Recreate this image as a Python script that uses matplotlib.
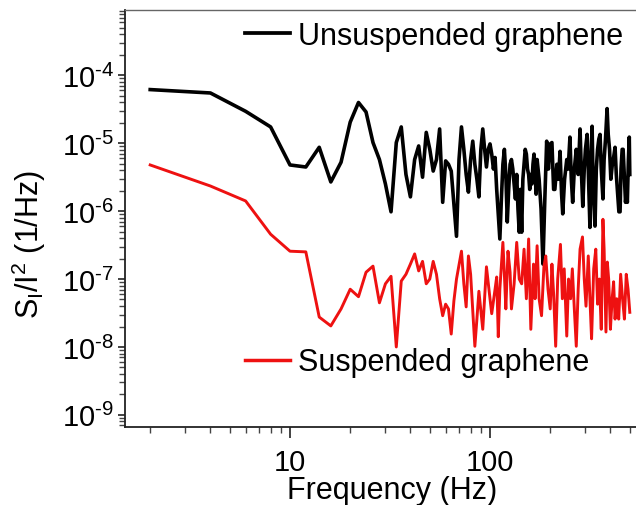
import numpy as np
import matplotlib
matplotlib.use("Agg")
from matplotlib import pyplot as plt

plt.rcParams['font.family'] = ['Liberation Sans', 'DejaVu Sans']
plt.rcParams['mathtext.fontset'] = 'custom'
plt.rcParams['mathtext.rm'] = 'Liberation Sans'
plt.rcParams['mathtext.it'] = 'Liberation Sans'

# data: frequency in Hz, noise as log10(S_I/I^2)
unsusp_freq = [2, 4, 6, 8, 10, 12, 14, 16, 18, 20, 22, 24, 26, 28, 30, 32, 34, 36, 38, 40,
               42, 44, 46, 48, 50, 52, 54, 56, 58, 60, 62, 64, 66, 68, 70, 72, 74, 76, 78, 80,
               82, 84, 86, 88, 90, 92, 94, 96, 98, 100, 102, 104, 106, 108, 110, 112, 114, 116, 118, 120,
               122, 124, 126, 128, 130, 132, 134, 136, 138, 140, 142, 144, 146, 148, 150, 152, 154, 156, 158, 160,
               162, 164, 166, 168, 170, 172, 176, 180, 184, 188, 192, 196, 200, 204, 208, 211, 216, 220, 224, 228,
               231, 236, 242, 246, 251, 255, 259, 264, 270, 276, 282, 286, 291, 296, 300, 306, 311, 316, 320, 324,
               328, 335, 340, 345, 350, 355, 360, 367, 372, 378, 385, 390, 396, 402, 408, 415, 422, 428, 435, 441,
               447, 452, 458, 463, 470, 476, 482, 486, 492, 497, 500]
unsusp_log = [-4.21, -4.26, -4.53, -4.76, -5.32, -5.35, -5.06, -5.57, -5.28, -4.69,
              -4.40, -4.54, -4.99, -5.24, -5.60, -6.01, -4.99, -4.76, -5.46, -5.79,
              -5.24, -5.04, -5.50, -4.84, -5.09, -5.41, -5.24, -4.79, -5.87, -5.26,
              -5.31, -5.41, -5.90, -6.37, -5.24, -4.76, -5.09, -5.46, -5.72, -5.24,
              -4.97, -5.31, -5.53, -5.79, -5.09, -4.79, -5.09, -5.35, -5.09, -5.01,
              -5.16, -5.38, -5.21, -5.68, -6.04, -6.41, -5.82, -5.31, -5.09, -5.46,
              -6.16, -5.68, -5.31, -5.24, -5.38, -5.60, -5.82, -5.46, -5.97, -6.31,
              -5.68, -6.31, -5.53, -5.31, -5.09, -5.16, -5.38, -5.46, -5.68, -5.46,
              -5.60, -5.31, -5.16, -5.38, -5.75, -5.24, -5.53, -5.97, -6.78, -5.82,
              -4.97, -5.38, -5.01, -4.99, -5.68, -5.68, -5.31, -5.53, -5.12, -5.75,
              -6.04, -5.53, -5.24, -5.38, -4.91, -5.53, -5.87, -5.38, -5.09, -5.46,
              -4.79, -5.38, -5.93, -5.38, -5.09, -4.87, -5.53, -6.24, -5.24, -4.75,
              -5.68, -6.22, -5.38, -5.09, -4.94, -4.87, -5.38, -5.82, -5.24, -4.94,
              -4.49, -4.87, -5.09, -5.53, -5.34, -5.21, -5.06, -5.46, -5.75, -6.01,
              -6.01, -5.38, -5.09, -5.09, -5.53, -5.87, -5.68, -5.87, -5.24, -4.91,
              -5.46]

susp_freq = [2, 4, 6, 8, 10, 12, 14, 16, 18, 20, 22, 24, 26, 28, 30, 32, 34, 36, 38, 40,
             42, 44, 46, 48, 50, 52, 54, 56, 58, 60, 62, 64, 66, 68, 72, 74, 76, 78, 80, 84,
             86, 88, 92, 96, 100, 102, 106, 108, 110, 112, 116, 118, 120, 123, 126, 128, 132, 136, 140, 144,
             148, 152, 156, 160, 165, 168, 172, 176, 181, 186, 190, 195, 200, 204, 208, 213, 218, 225, 230, 235,
             242, 247, 253, 258, 264, 270, 276, 282, 290, 296, 302, 310, 316, 322, 330, 338, 345, 352, 360, 367,
             372, 380, 386, 392, 400, 408, 415, 422, 430, 440, 450, 460, 470, 480, 490, 500]
susp_log = [-5.32, -5.63, -5.85, -6.34, -6.59, -6.60, -7.56, -7.69, -7.44, -7.15,
            -7.26, -6.90, -6.81, -7.35, -7.07, -6.96, -8.00, -7.03, -6.93, -6.78,
            -6.63, -6.88, -6.74, -7.07, -7.00, -6.74, -6.93, -7.29, -7.54, -7.37,
            -7.44, -7.81, -7.32, -7.00, -6.59, -7.07, -7.41, -6.66, -6.93, -7.99,
            -7.59, -7.18, -7.74, -6.82, -7.29, -7.51, -7.15, -6.97, -7.85, -7.15,
            -6.46, -6.93, -7.44, -6.59, -6.90, -7.44, -7.07, -6.46, -7.00, -7.07,
            -6.56, -7.29, -6.41, -7.74, -6.78, -7.29, -6.51, -7.29, -7.54, -6.82,
            -6.66, -7.15, -7.44, -6.78, -7.22, -7.99, -7.00, -6.49, -7.29, -6.85,
            -7.84, -7.00, -7.29, -6.85, -7.44, -7.99, -7.15, -6.56, -6.38, -7.00,
            -7.40, -6.66, -7.29, -7.88, -6.85, -6.56, -7.37, -7.00, -7.74, -6.12,
            -6.56, -7.78, -6.75, -7.00, -7.74, -7.29, -7.04, -7.59, -7.29, -7.59,
            -6.93, -7.29, -7.59, -6.93, -7.15, -7.49]

labels = ["Unsuspended graphene", "Suspended graphene"]
colors = ["black", "#ee1111"]

fig = plt.figure(figsize=(6.36, 5.06), dpi=100)
ax = fig.add_axes([0.1965, 0.154, 0.8035, 0.824])

l1, = ax.plot(unsusp_freq, 10.0 ** np.array(unsusp_log), color=colors[0], lw=2.6)
l2, = ax.plot(susp_freq, 10.0 ** np.array(susp_log), color=colors[1], lw=2.1)

ax.set_xscale('log')
ax.set_yscale('log')
ax.set_xlim(1.496, 537)
ax.set_ylim(10 ** -9.18, 10 ** -3.04)

ax.spines['right'].set_visible(False)
ax.spines['top'].set_color('#666666')
ax.spines['top'].set_linewidth(1.0)
for s in ['left', 'bottom']:
    ax.spines[s].set_linewidth(1.3)
    ax.spines[s].set_color('#222222')

ax.set_yticks([1e-9, 1e-8, 1e-7, 1e-6, 1e-5, 1e-4])
ax.set_yticklabels([r'$\mathregular{10^{\text{-}%d}}$' % e for e in range(9, 3, -1)])
ax.set_xticks([10, 100])
ax.set_xticklabels(['10', '100'])
ax.tick_params(axis='both', which='major', direction='out', labelsize=21, width=1.2, color='#222222')
ax.tick_params(axis='x', which='major', length=8, pad=7)
ax.tick_params(axis='y', which='major', length=5, pad=3)
ax.tick_params(axis='both', which='minor', direction='out', length=4, width=1.0, color='#444444')
ax.yaxis.set_minor_locator(matplotlib.ticker.LogLocator(base=10, subs=np.arange(2, 10), numticks=20))
ax.yaxis.set_minor_formatter(matplotlib.ticker.NullFormatter())
ax.xaxis.set_minor_formatter(matplotlib.ticker.NullFormatter())

ax.set_xlabel('Frequency (Hz)', fontsize=22)
ax.xaxis.set_label_coords(0.522, -0.115)
ax.set_ylabel(r'$\mathregular{S_I/I^2}$ (1/Hz)', fontsize=22)
ax.yaxis.set_label_coords(-0.15, 0.44)

leg1 = ax.legend([l1], [labels[0]], loc='center left', bbox_to_anchor=(0.235, 0.938),
                 frameon=False, fontsize=22, handlelength=1.47, handletextpad=0.27,
                 borderaxespad=0, borderpad=0)
for h in leg1.get_lines():
    h.set_linewidth(2.7)
ax.add_artist(leg1)
leg2 = ax.legend([l2], [labels[1]], loc='center left', bbox_to_anchor=(0.235, 0.155),
                 frameon=False, fontsize=22, handlelength=1.47, handletextpad=0.27,
                 borderaxespad=0, borderpad=0)
for h in leg2.get_lines():
    h.set_linewidth(2.5)

fig.savefig("out.png", dpi=100)
